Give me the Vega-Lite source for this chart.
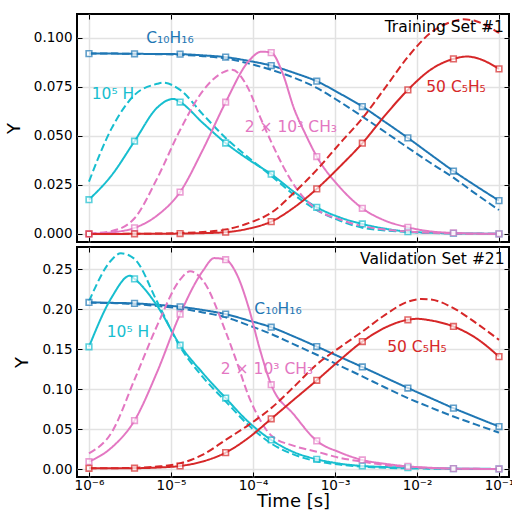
{
"$schema": "https://vega.github.io/schema/vega-lite/v6.json",
"padding": {"left": 4, "top": 12, "right": 0, "bottom": 0},
"background": "white",
"spacing": 1,
"config": {
  "view": {"stroke": "black", "strokeWidth": 2},
  "font": "DejaVu Sans",
  "axis": {"domain": false, "labelFont": "DejaVu Sans", "labelFontSize": 13.5, "labelColor": "black", "titleFont": "DejaVu Sans", "titleFontSize": 18, "titleFontWeight": "normal", "titleColor": "black", "tickColor": "black", "tickSize": -5, "tickWidth": 1, "gridColor": "#e2e2e2", "gridWidth": 1.5}
},
"datasets": {
"curves": [
{"p":"T","s":"C10H16","k":"ref","t":1e-6,"y":0.092},{"p":"T","s":"C10H16","k":"ref","t":1.8957e-6,"y":0.092},{"p":"T","s":"C10H16","k":"ref","t":3.5938e-6,"y":0.0919},{"p":"T","s":"C10H16","k":"ref","t":6.8129e-6,"y":0.0918},{"p":"T","s":"C10H16","k":"ref","t":1.2915e-5,"y":0.0917},{"p":"T","s":"C10H16","k":"ref","t":2.4484e-5,"y":0.0911},{"p":"T","s":"C10H16","k":"ref","t":4.6416e-5,"y":0.0902},{"p":"T","s":"C10H16","k":"ref","t":8.7992e-5,"y":0.0883},{"p":"T","s":"C10H16","k":"ref","t":1.6681e-4,"y":0.0859},{"p":"T","s":"C10H16","k":"ref","t":3.1623e-4,"y":0.0822},{"p":"T","s":"C10H16","k":"ref","t":5.9948e-4,"y":0.0779},{"p":"T","s":"C10H16","k":"ref","t":1.1365e-3,"y":0.0717},{"p":"T","s":"C10H16","k":"ref","t":2.1544e-3,"y":0.065},{"p":"T","s":"C10H16","k":"ref","t":4.0842e-3,"y":0.0571},{"p":"T","s":"C10H16","k":"ref","t":7.7426e-3,"y":0.049},{"p":"T","s":"C10H16","k":"ref","t":1.4678e-2,"y":0.0405},{"p":"T","s":"C10H16","k":"ref","t":2.7826e-2,"y":0.0321},{"p":"T","s":"C10H16","k":"ref","t":5.2749e-2,"y":0.0244},{"p":"T","s":"C10H16","k":"ref","t":0.1,"y":0.017},
{"p":"T","s":"C10H16","k":"pred","t":1e-6,"y":0.092},{"p":"T","s":"C10H16","k":"pred","t":1.8957e-6,"y":0.092},{"p":"T","s":"C10H16","k":"pred","t":3.5938e-6,"y":0.0919},{"p":"T","s":"C10H16","k":"pred","t":6.8129e-6,"y":0.0917},{"p":"T","s":"C10H16","k":"pred","t":1.2915e-5,"y":0.0914},{"p":"T","s":"C10H16","k":"pred","t":2.4484e-5,"y":0.0907},{"p":"T","s":"C10H16","k":"pred","t":4.6416e-5,"y":0.0895},{"p":"T","s":"C10H16","k":"pred","t":8.7992e-5,"y":0.087},{"p":"T","s":"C10H16","k":"pred","t":1.6681e-4,"y":0.0837},{"p":"T","s":"C10H16","k":"pred","t":3.1623e-4,"y":0.0797},{"p":"T","s":"C10H16","k":"pred","t":5.9948e-4,"y":0.0745},{"p":"T","s":"C10H16","k":"pred","t":1.1365e-3,"y":0.0675},{"p":"T","s":"C10H16","k":"pred","t":2.1544e-3,"y":0.0599},{"p":"T","s":"C10H16","k":"pred","t":4.0842e-3,"y":0.052},{"p":"T","s":"C10H16","k":"pred","t":7.7426e-3,"y":0.044},{"p":"T","s":"C10H16","k":"pred","t":1.4678e-2,"y":0.0362},{"p":"T","s":"C10H16","k":"pred","t":2.7826e-2,"y":0.0287},{"p":"T","s":"C10H16","k":"pred","t":5.2749e-2,"y":0.0203},{"p":"T","s":"C10H16","k":"pred","t":0.1,"y":0.0122},
{"p":"T","s":"H","k":"ref","t":1e-6,"y":0.0175},{"p":"T","s":"H","k":"ref","t":1.8957e-6,"y":0.030},{"p":"T","s":"H","k":"ref","t":3.5938e-6,"y":0.0473},{"p":"T","s":"H","k":"ref","t":6.8129e-6,"y":0.0645},{"p":"T","s":"H","k":"ref","t":1.0661e-5,"y":0.0689},{"p":"T","s":"H","k":"ref","t":1.2915e-5,"y":0.0673},{"p":"T","s":"H","k":"ref","t":2.4484e-5,"y":0.0566},{"p":"T","s":"H","k":"ref","t":4.6416e-5,"y":0.0464},{"p":"T","s":"H","k":"ref","t":8.7992e-5,"y":0.038},{"p":"T","s":"H","k":"ref","t":1.6681e-4,"y":0.0305},{"p":"T","s":"H","k":"ref","t":3.1623e-4,"y":0.0215},{"p":"T","s":"H","k":"ref","t":5.9948e-4,"y":0.0136},{"p":"T","s":"H","k":"ref","t":1.1365e-3,"y":0.0085},{"p":"T","s":"H","k":"ref","t":2.1544e-3,"y":0.0051},{"p":"T","s":"H","k":"ref","t":4.0842e-3,"y":0.0027},{"p":"T","s":"H","k":"ref","t":7.7426e-3,"y":0.0012},{"p":"T","s":"H","k":"ref","t":1.4678e-2,"y":0.0006},{"p":"T","s":"H","k":"ref","t":2.7826e-2,"y":0.0003},{"p":"T","s":"H","k":"ref","t":5.2749e-2,"y":0.0002},{"p":"T","s":"H","k":"ref","t":0.1,"y":0.0001},
{"p":"T","s":"H","k":"pred","t":1e-6,"y":0.0267},{"p":"T","s":"H","k":"pred","t":1.8957e-6,"y":0.054},{"p":"T","s":"H","k":"pred","t":3.5938e-6,"y":0.0709},{"p":"T","s":"H","k":"pred","t":6.8129e-6,"y":0.0766},{"p":"T","s":"H","k":"pred","t":7.943e-6,"y":0.0772},{"p":"T","s":"H","k":"pred","t":1.2915e-5,"y":0.0735},{"p":"T","s":"H","k":"pred","t":2.4484e-5,"y":0.061},{"p":"T","s":"H","k":"pred","t":4.6416e-5,"y":0.049},{"p":"T","s":"H","k":"pred","t":8.7992e-5,"y":0.039},{"p":"T","s":"H","k":"pred","t":1.6681e-4,"y":0.0297},{"p":"T","s":"H","k":"pred","t":3.1623e-4,"y":0.020},{"p":"T","s":"H","k":"pred","t":5.9948e-4,"y":0.0122},{"p":"T","s":"H","k":"pred","t":1.1365e-3,"y":0.0068},{"p":"T","s":"H","k":"pred","t":2.1544e-3,"y":0.0032},{"p":"T","s":"H","k":"pred","t":4.0842e-3,"y":0.0018},{"p":"T","s":"H","k":"pred","t":7.7426e-3,"y":0.001},{"p":"T","s":"H","k":"pred","t":1.4678e-2,"y":0.0005},{"p":"T","s":"H","k":"pred","t":2.7826e-2,"y":0.0002},{"p":"T","s":"H","k":"pred","t":5.2749e-2,"y":0.0001},{"p":"T","s":"H","k":"pred","t":0.1,"y":0.0001},
{"p":"T","s":"CH3","k":"ref","t":1e-6,"y":0.0001},{"p":"T","s":"CH3","k":"ref","t":1.8957e-6,"y":0.0008},{"p":"T","s":"CH3","k":"ref","t":3.5938e-6,"y":0.0031},{"p":"T","s":"CH3","k":"ref","t":6.8129e-6,"y":0.0095},{"p":"T","s":"CH3","k":"ref","t":1.2915e-5,"y":0.0214},{"p":"T","s":"CH3","k":"ref","t":2.4484e-5,"y":0.043},{"p":"T","s":"CH3","k":"ref","t":4.6416e-5,"y":0.0672},{"p":"T","s":"CH3","k":"ref","t":8.7992e-5,"y":0.088},{"p":"T","s":"CH3","k":"ref","t":1.275e-4,"y":0.093},{"p":"T","s":"CH3","k":"ref","t":1.6681e-4,"y":0.0925},{"p":"T","s":"CH3","k":"ref","t":2.2967e-4,"y":0.082},{"p":"T","s":"CH3","k":"ref","t":3.1623e-4,"y":0.064},{"p":"T","s":"CH3","k":"ref","t":4.3539e-4,"y":0.051},{"p":"T","s":"CH3","k":"ref","t":5.9948e-4,"y":0.0395},{"p":"T","s":"CH3","k":"ref","t":1.1365e-3,"y":0.024},{"p":"T","s":"CH3","k":"ref","t":2.1544e-3,"y":0.0131},{"p":"T","s":"CH3","k":"ref","t":4.0842e-3,"y":0.0068},{"p":"T","s":"CH3","k":"ref","t":7.7426e-3,"y":0.0034},{"p":"T","s":"CH3","k":"ref","t":1.4678e-2,"y":0.0013},{"p":"T","s":"CH3","k":"ref","t":2.7826e-2,"y":0.0005},{"p":"T","s":"CH3","k":"ref","t":5.2749e-2,"y":0.0002},{"p":"T","s":"CH3","k":"ref","t":0.1,"y":0.0001},
{"p":"T","s":"CH3","k":"pred","t":1e-6,"y":0.0002},{"p":"T","s":"CH3","k":"pred","t":1.8957e-6,"y":0.0015},{"p":"T","s":"CH3","k":"pred","t":3.5938e-6,"y":0.008},{"p":"T","s":"CH3","k":"pred","t":6.8129e-6,"y":0.0285},{"p":"T","s":"CH3","k":"pred","t":1.2915e-5,"y":0.053},{"p":"T","s":"CH3","k":"pred","t":2.4484e-5,"y":0.073},{"p":"T","s":"CH3","k":"pred","t":4.6416e-5,"y":0.083},{"p":"T","s":"CH3","k":"pred","t":5.5519e-5,"y":0.0837},{"p":"T","s":"CH3","k":"pred","t":8.7992e-5,"y":0.074},{"p":"T","s":"CH3","k":"pred","t":1.2115e-4,"y":0.060},{"p":"T","s":"CH3","k":"pred","t":1.6681e-4,"y":0.047},{"p":"T","s":"CH3","k":"pred","t":2.2967e-4,"y":0.035},{"p":"T","s":"CH3","k":"pred","t":3.1623e-4,"y":0.025},{"p":"T","s":"CH3","k":"pred","t":5.9948e-4,"y":0.0125},{"p":"T","s":"CH3","k":"pred","t":1.1365e-3,"y":0.0075},{"p":"T","s":"CH3","k":"pred","t":2.1544e-3,"y":0.004},{"p":"T","s":"CH3","k":"pred","t":4.0842e-3,"y":0.0022},{"p":"T","s":"CH3","k":"pred","t":7.7426e-3,"y":0.0012},{"p":"T","s":"CH3","k":"pred","t":1.4678e-2,"y":0.0006},{"p":"T","s":"CH3","k":"pred","t":2.7826e-2,"y":0.0003},{"p":"T","s":"CH3","k":"pred","t":5.2749e-2,"y":0.0001},{"p":"T","s":"CH3","k":"pred","t":0.1,"y":0.0001},
{"p":"T","s":"C5H5","k":"ref","t":1e-6,"y":0},{"p":"T","s":"C5H5","k":"ref","t":1.8957e-6,"y":0},{"p":"T","s":"C5H5","k":"ref","t":3.5938e-6,"y":0.0001},{"p":"T","s":"C5H5","k":"ref","t":6.8129e-6,"y":0.0001},{"p":"T","s":"C5H5","k":"ref","t":1.2915e-5,"y":0.0002},{"p":"T","s":"C5H5","k":"ref","t":2.4484e-5,"y":0.0004},{"p":"T","s":"C5H5","k":"ref","t":4.6416e-5,"y":0.0009},{"p":"T","s":"C5H5","k":"ref","t":8.7992e-5,"y":0.0027},{"p":"T","s":"C5H5","k":"ref","t":1.6681e-4,"y":0.0063},{"p":"T","s":"C5H5","k":"ref","t":3.1623e-4,"y":0.0135},{"p":"T","s":"C5H5","k":"ref","t":5.9948e-4,"y":0.023},{"p":"T","s":"C5H5","k":"ref","t":1.1365e-3,"y":0.0342},{"p":"T","s":"C5H5","k":"ref","t":2.1544e-3,"y":0.0463},{"p":"T","s":"C5H5","k":"ref","t":4.0842e-3,"y":0.0605},{"p":"T","s":"C5H5","k":"ref","t":7.7426e-3,"y":0.0735},{"p":"T","s":"C5H5","k":"ref","t":1.4678e-2,"y":0.0838},{"p":"T","s":"C5H5","k":"ref","t":2.7826e-2,"y":0.0893},{"p":"T","s":"C5H5","k":"ref","t":4.0842e-2,"y":0.0905},{"p":"T","s":"C5H5","k":"ref","t":5.2749e-2,"y":0.0898},{"p":"T","s":"C5H5","k":"ref","t":0.1,"y":0.0842},
{"p":"T","s":"C5H5","k":"pred","t":1e-6,"y":0},{"p":"T","s":"C5H5","k":"pred","t":1.8957e-6,"y":0},{"p":"T","s":"C5H5","k":"pred","t":3.5938e-6,"y":0.0001},{"p":"T","s":"C5H5","k":"pred","t":6.8129e-6,"y":0.0002},{"p":"T","s":"C5H5","k":"pred","t":1.2915e-5,"y":0.0005},{"p":"T","s":"C5H5","k":"pred","t":2.4484e-5,"y":0.001},{"p":"T","s":"C5H5","k":"pred","t":4.6416e-5,"y":0.0022},{"p":"T","s":"C5H5","k":"pred","t":8.7992e-5,"y":0.0055},{"p":"T","s":"C5H5","k":"pred","t":1.6681e-4,"y":0.0108},{"p":"T","s":"C5H5","k":"pred","t":3.1623e-4,"y":0.021},{"p":"T","s":"C5H5","k":"pred","t":5.9948e-4,"y":0.0327},{"p":"T","s":"C5H5","k":"pred","t":1.1365e-3,"y":0.046},{"p":"T","s":"C5H5","k":"pred","t":2.1544e-3,"y":0.059},{"p":"T","s":"C5H5","k":"pred","t":4.0842e-3,"y":0.0745},{"p":"T","s":"C5H5","k":"pred","t":7.7426e-3,"y":0.0903},{"p":"T","s":"C5H5","k":"pred","t":1.4678e-2,"y":0.1026},{"p":"T","s":"C5H5","k":"pred","t":2.7826e-2,"y":0.1085},{"p":"T","s":"C5H5","k":"pred","t":3.5938e-2,"y":0.1095},{"p":"T","s":"C5H5","k":"pred","t":5.2749e-2,"y":0.1085},{"p":"T","s":"C5H5","k":"pred","t":0.1,"y":0.1025},
{"p":"V","s":"C10H16","k":"ref","t":1e-6,"y":0.2085},{"p":"V","s":"C10H16","k":"ref","t":1.8957e-6,"y":0.208},{"p":"V","s":"C10H16","k":"ref","t":3.5938e-6,"y":0.2073},{"p":"V","s":"C10H16","k":"ref","t":6.8129e-6,"y":0.2055},{"p":"V","s":"C10H16","k":"ref","t":1.2915e-5,"y":0.2031},{"p":"V","s":"C10H16","k":"ref","t":2.4484e-5,"y":0.199},{"p":"V","s":"C10H16","k":"ref","t":4.6416e-5,"y":0.1939},{"p":"V","s":"C10H16","k":"ref","t":8.7992e-5,"y":0.186},{"p":"V","s":"C10H16","k":"ref","t":1.6681e-4,"y":0.1775},{"p":"V","s":"C10H16","k":"ref","t":3.1623e-4,"y":0.1658},{"p":"V","s":"C10H16","k":"ref","t":5.9948e-4,"y":0.1533},{"p":"V","s":"C10H16","k":"ref","t":1.1365e-3,"y":0.1405},{"p":"V","s":"C10H16","k":"ref","t":2.1544e-3,"y":0.1277},{"p":"V","s":"C10H16","k":"ref","t":4.0842e-3,"y":0.1145},{"p":"V","s":"C10H16","k":"ref","t":7.7426e-3,"y":0.1014},{"p":"V","s":"C10H16","k":"ref","t":1.4678e-2,"y":0.0888},{"p":"V","s":"C10H16","k":"ref","t":2.7826e-2,"y":0.0762},{"p":"V","s":"C10H16","k":"ref","t":5.2749e-2,"y":0.0645},{"p":"V","s":"C10H16","k":"ref","t":0.1,"y":0.0532},
{"p":"V","s":"C10H16","k":"pred","t":1e-6,"y":0.2085},{"p":"V","s":"C10H16","k":"pred","t":1.8957e-6,"y":0.2077},{"p":"V","s":"C10H16","k":"pred","t":3.5938e-6,"y":0.2065},{"p":"V","s":"C10H16","k":"pred","t":6.8129e-6,"y":0.204},{"p":"V","s":"C10H16","k":"pred","t":1.2915e-5,"y":0.201},{"p":"V","s":"C10H16","k":"pred","t":2.4484e-5,"y":0.196},{"p":"V","s":"C10H16","k":"pred","t":4.6416e-5,"y":0.19},{"p":"V","s":"C10H16","k":"pred","t":8.7992e-5,"y":0.18},{"p":"V","s":"C10H16","k":"pred","t":1.6681e-4,"y":0.169},{"p":"V","s":"C10H16","k":"pred","t":3.1623e-4,"y":0.156},{"p":"V","s":"C10H16","k":"pred","t":5.9948e-4,"y":0.143},{"p":"V","s":"C10H16","k":"pred","t":1.1365e-3,"y":0.1295},{"p":"V","s":"C10H16","k":"pred","t":2.1544e-3,"y":0.116},{"p":"V","s":"C10H16","k":"pred","t":4.0842e-3,"y":0.102},{"p":"V","s":"C10H16","k":"pred","t":7.7426e-3,"y":0.0888},{"p":"V","s":"C10H16","k":"pred","t":1.4678e-2,"y":0.077},{"p":"V","s":"C10H16","k":"pred","t":2.7826e-2,"y":0.0657},{"p":"V","s":"C10H16","k":"pred","t":5.2749e-2,"y":0.0555},{"p":"V","s":"C10H16","k":"pred","t":0.1,"y":0.0456},
{"p":"V","s":"H","k":"ref","t":1e-6,"y":0.153},{"p":"V","s":"H","k":"ref","t":1.8957e-6,"y":0.215},{"p":"V","s":"H","k":"ref","t":3.1623e-6,"y":0.242},{"p":"V","s":"H","k":"ref","t":3.5938e-6,"y":0.238},{"p":"V","s":"H","k":"ref","t":6.8129e-6,"y":0.204},{"p":"V","s":"H","k":"ref","t":1.2915e-5,"y":0.155},{"p":"V","s":"H","k":"ref","t":2.4484e-5,"y":0.12},{"p":"V","s":"H","k":"ref","t":4.6416e-5,"y":0.0888},{"p":"V","s":"H","k":"ref","t":8.7992e-5,"y":0.059},{"p":"V","s":"H","k":"ref","t":1.6681e-4,"y":0.0364},{"p":"V","s":"H","k":"ref","t":3.1623e-4,"y":0.021},{"p":"V","s":"H","k":"ref","t":5.9948e-4,"y":0.0122},{"p":"V","s":"H","k":"ref","t":1.1365e-3,"y":0.0068},{"p":"V","s":"H","k":"ref","t":2.1544e-3,"y":0.0038},{"p":"V","s":"H","k":"ref","t":4.0842e-3,"y":0.0025},{"p":"V","s":"H","k":"ref","t":7.7426e-3,"y":0.0017},{"p":"V","s":"H","k":"ref","t":1.4678e-2,"y":0.001},{"p":"V","s":"H","k":"ref","t":2.7826e-2,"y":0.0005},{"p":"V","s":"H","k":"ref","t":5.2749e-2,"y":0.0003},{"p":"V","s":"H","k":"ref","t":0.1,"y":0.0001},
{"p":"V","s":"H","k":"pred","t":1e-6,"y":0.21},{"p":"V","s":"H","k":"pred","t":1.8957e-6,"y":0.262},{"p":"V","s":"H","k":"pred","t":2.448e-6,"y":0.27},{"p":"V","s":"H","k":"pred","t":3.5938e-6,"y":0.263},{"p":"V","s":"H","k":"pred","t":6.8129e-6,"y":0.209},{"p":"V","s":"H","k":"pred","t":1.2915e-5,"y":0.153},{"p":"V","s":"H","k":"pred","t":2.4484e-5,"y":0.115},{"p":"V","s":"H","k":"pred","t":4.6416e-5,"y":0.0846},{"p":"V","s":"H","k":"pred","t":8.7992e-5,"y":0.055},{"p":"V","s":"H","k":"pred","t":1.6681e-4,"y":0.032},{"p":"V","s":"H","k":"pred","t":3.1623e-4,"y":0.018},{"p":"V","s":"H","k":"pred","t":5.9948e-4,"y":0.0097},{"p":"V","s":"H","k":"pred","t":1.1365e-3,"y":0.0055},{"p":"V","s":"H","k":"pred","t":2.1544e-3,"y":0.003},{"p":"V","s":"H","k":"pred","t":4.0842e-3,"y":0.0015},{"p":"V","s":"H","k":"pred","t":7.7426e-3,"y":0.0008},{"p":"V","s":"H","k":"pred","t":1.4678e-2,"y":0.0004},{"p":"V","s":"H","k":"pred","t":2.7826e-2,"y":0.0002},{"p":"V","s":"H","k":"pred","t":5.2749e-2,"y":0.0001},{"p":"V","s":"H","k":"pred","t":0.1,"y":0.0001},
{"p":"V","s":"CH3","k":"ref","t":1e-6,"y":0.0092},{"p":"V","s":"CH3","k":"ref","t":1.8957e-6,"y":0.027},{"p":"V","s":"CH3","k":"ref","t":3.5938e-6,"y":0.0607},{"p":"V","s":"CH3","k":"ref","t":6.8129e-6,"y":0.122},{"p":"V","s":"CH3","k":"ref","t":1.2915e-5,"y":0.1938},{"p":"V","s":"CH3","k":"ref","t":2.4484e-5,"y":0.248},{"p":"V","s":"CH3","k":"ref","t":3.3714e-5,"y":0.264},{"p":"V","s":"CH3","k":"ref","t":4.6416e-5,"y":0.262},{"p":"V","s":"CH3","k":"ref","t":6.3912e-5,"y":0.243},{"p":"V","s":"CH3","k":"ref","t":8.7992e-5,"y":0.203},{"p":"V","s":"CH3","k":"ref","t":1.2115e-4,"y":0.15},{"p":"V","s":"CH3","k":"ref","t":1.6681e-4,"y":0.1055},{"p":"V","s":"CH3","k":"ref","t":3.1623e-4,"y":0.068},{"p":"V","s":"CH3","k":"ref","t":5.9948e-4,"y":0.0352},{"p":"V","s":"CH3","k":"ref","t":1.1365e-3,"y":0.021},{"p":"V","s":"CH3","k":"ref","t":2.1544e-3,"y":0.0113},{"p":"V","s":"CH3","k":"ref","t":4.0842e-3,"y":0.0065},{"p":"V","s":"CH3","k":"ref","t":7.7426e-3,"y":0.0033},{"p":"V","s":"CH3","k":"ref","t":1.4678e-2,"y":0.0015},{"p":"V","s":"CH3","k":"ref","t":2.7826e-2,"y":0.0005},{"p":"V","s":"CH3","k":"ref","t":5.2749e-2,"y":0.0002},{"p":"V","s":"CH3","k":"ref","t":0.1,"y":0.0001},
{"p":"V","s":"CH3","k":"pred","t":1e-6,"y":0.0197},{"p":"V","s":"CH3","k":"pred","t":1.8957e-6,"y":0.046},{"p":"V","s":"CH3","k":"pred","t":3.5938e-6,"y":0.112},{"p":"V","s":"CH3","k":"pred","t":6.8129e-6,"y":0.18},{"p":"V","s":"CH3","k":"pred","t":1.2915e-5,"y":0.237},{"p":"V","s":"CH3","k":"pred","t":1.7113e-5,"y":0.2475},{"p":"V","s":"CH3","k":"pred","t":2.4484e-5,"y":0.236},{"p":"V","s":"CH3","k":"pred","t":4.6416e-5,"y":0.172},{"p":"V","s":"CH3","k":"pred","t":6.3912e-5,"y":0.133},{"p":"V","s":"CH3","k":"pred","t":8.7992e-5,"y":0.092},{"p":"V","s":"CH3","k":"pred","t":1.2115e-4,"y":0.062},{"p":"V","s":"CH3","k":"pred","t":1.6681e-4,"y":0.042},{"p":"V","s":"CH3","k":"pred","t":3.1623e-4,"y":0.029},{"p":"V","s":"CH3","k":"pred","t":5.9948e-4,"y":0.0217},{"p":"V","s":"CH3","k":"pred","t":1.1365e-3,"y":0.014},{"p":"V","s":"CH3","k":"pred","t":2.1544e-3,"y":0.0092},{"p":"V","s":"CH3","k":"pred","t":4.0842e-3,"y":0.005},{"p":"V","s":"CH3","k":"pred","t":7.7426e-3,"y":0.0027},{"p":"V","s":"CH3","k":"pred","t":1.4678e-2,"y":0.0012},{"p":"V","s":"CH3","k":"pred","t":2.7826e-2,"y":0.0005},{"p":"V","s":"CH3","k":"pred","t":5.2749e-2,"y":0.0002},{"p":"V","s":"CH3","k":"pred","t":0.1,"y":0.0001},
{"p":"V","s":"C5H5","k":"ref","t":1e-6,"y":0.0009},{"p":"V","s":"C5H5","k":"ref","t":1.8957e-6,"y":0.0009},{"p":"V","s":"C5H5","k":"ref","t":3.5938e-6,"y":0.001},{"p":"V","s":"C5H5","k":"ref","t":6.8129e-6,"y":0.0018},{"p":"V","s":"C5H5","k":"ref","t":1.2915e-5,"y":0.0038},{"p":"V","s":"C5H5","k":"ref","t":2.4484e-5,"y":0.0095},{"p":"V","s":"C5H5","k":"ref","t":4.6416e-5,"y":0.0205},{"p":"V","s":"C5H5","k":"ref","t":8.7992e-5,"y":0.039},{"p":"V","s":"C5H5","k":"ref","t":1.6681e-4,"y":0.0628},{"p":"V","s":"C5H5","k":"ref","t":3.1623e-4,"y":0.087},{"p":"V","s":"C5H5","k":"ref","t":5.9948e-4,"y":0.111},{"p":"V","s":"C5H5","k":"ref","t":1.1365e-3,"y":0.136},{"p":"V","s":"C5H5","k":"ref","t":2.1544e-3,"y":0.1595},{"p":"V","s":"C5H5","k":"ref","t":4.0842e-3,"y":0.177},{"p":"V","s":"C5H5","k":"ref","t":7.7426e-3,"y":0.1868},{"p":"V","s":"C5H5","k":"ref","t":1e-2,"y":0.188},{"p":"V","s":"C5H5","k":"ref","t":1.4678e-2,"y":0.186},{"p":"V","s":"C5H5","k":"ref","t":2.7826e-2,"y":0.1784},{"p":"V","s":"C5H5","k":"ref","t":5.2749e-2,"y":0.1637},{"p":"V","s":"C5H5","k":"ref","t":0.1,"y":0.1407},
{"p":"V","s":"C5H5","k":"pred","t":1e-6,"y":0.0009},{"p":"V","s":"C5H5","k":"pred","t":1.8957e-6,"y":0.001},{"p":"V","s":"C5H5","k":"pred","t":3.5938e-6,"y":0.0015},{"p":"V","s":"C5H5","k":"pred","t":6.8129e-6,"y":0.003},{"p":"V","s":"C5H5","k":"pred","t":1.2915e-5,"y":0.007},{"p":"V","s":"C5H5","k":"pred","t":2.4484e-5,"y":0.018},{"p":"V","s":"C5H5","k":"pred","t":4.6416e-5,"y":0.0364},{"p":"V","s":"C5H5","k":"pred","t":8.7992e-5,"y":0.055},{"p":"V","s":"C5H5","k":"pred","t":1.6681e-4,"y":0.0762},{"p":"V","s":"C5H5","k":"pred","t":3.1623e-4,"y":0.103},{"p":"V","s":"C5H5","k":"pred","t":5.9948e-4,"y":0.131},{"p":"V","s":"C5H5","k":"pred","t":1.1365e-3,"y":0.152},{"p":"V","s":"C5H5","k":"pred","t":2.1544e-3,"y":0.172},{"p":"V","s":"C5H5","k":"pred","t":4.0842e-3,"y":0.193},{"p":"V","s":"C5H5","k":"pred","t":7.7426e-3,"y":0.2095},{"p":"V","s":"C5H5","k":"pred","t":1.1365e-2,"y":0.2128},{"p":"V","s":"C5H5","k":"pred","t":1.4678e-2,"y":0.2122},{"p":"V","s":"C5H5","k":"pred","t":2.7826e-2,"y":0.2014},{"p":"V","s":"C5H5","k":"pred","t":5.2749e-2,"y":0.1826},{"p":"V","s":"C5H5","k":"pred","t":0.1,"y":0.1617}
],
"samples": [
{"p":"T","s":"C10H16","t":1e-6,"y":0.092},{"p":"T","s":"C10H16","t":3.5938e-6,"y":0.0919},{"p":"T","s":"C10H16","t":1.2915e-5,"y":0.0917},{"p":"T","s":"C10H16","t":4.6416e-5,"y":0.0902},{"p":"T","s":"C10H16","t":1.6681e-4,"y":0.0859},{"p":"T","s":"C10H16","t":5.9948e-4,"y":0.0779},{"p":"T","s":"C10H16","t":2.1544e-3,"y":0.065},{"p":"T","s":"C10H16","t":7.7426e-3,"y":0.049},{"p":"T","s":"C10H16","t":2.7826e-2,"y":0.0321},{"p":"T","s":"C10H16","t":0.1,"y":0.017},
{"p":"T","s":"H","t":1e-6,"y":0.0175},{"p":"T","s":"H","t":3.5938e-6,"y":0.0473},{"p":"T","s":"H","t":1.2915e-5,"y":0.0673},{"p":"T","s":"H","t":4.6416e-5,"y":0.0464},{"p":"T","s":"H","t":1.6681e-4,"y":0.0305},{"p":"T","s":"H","t":5.9948e-4,"y":0.0136},{"p":"T","s":"H","t":2.1544e-3,"y":0.0051},{"p":"T","s":"H","t":7.7426e-3,"y":0.0012},{"p":"T","s":"H","t":2.7826e-2,"y":0.0003},{"p":"T","s":"H","t":0.1,"y":0.0001},
{"p":"T","s":"CH3","t":1e-6,"y":0.0001},{"p":"T","s":"CH3","t":3.5938e-6,"y":0.0031},{"p":"T","s":"CH3","t":1.2915e-5,"y":0.0214},{"p":"T","s":"CH3","t":4.6416e-5,"y":0.0672},{"p":"T","s":"CH3","t":1.6681e-4,"y":0.0925},{"p":"T","s":"CH3","t":5.9948e-4,"y":0.0395},{"p":"T","s":"CH3","t":2.1544e-3,"y":0.0131},{"p":"T","s":"CH3","t":7.7426e-3,"y":0.0034},{"p":"T","s":"CH3","t":2.7826e-2,"y":0.0005},{"p":"T","s":"CH3","t":0.1,"y":0.0001},
{"p":"T","s":"C5H5","t":1e-6,"y":0},{"p":"T","s":"C5H5","t":3.5938e-6,"y":0.0001},{"p":"T","s":"C5H5","t":1.2915e-5,"y":0.0002},{"p":"T","s":"C5H5","t":4.6416e-5,"y":0.0009},{"p":"T","s":"C5H5","t":1.6681e-4,"y":0.0063},{"p":"T","s":"C5H5","t":5.9948e-4,"y":0.023},{"p":"T","s":"C5H5","t":2.1544e-3,"y":0.0463},{"p":"T","s":"C5H5","t":7.7426e-3,"y":0.0735},{"p":"T","s":"C5H5","t":2.7826e-2,"y":0.0893},{"p":"T","s":"C5H5","t":0.1,"y":0.0842},
{"p":"V","s":"C10H16","t":1e-6,"y":0.2085},{"p":"V","s":"C10H16","t":3.5938e-6,"y":0.2073},{"p":"V","s":"C10H16","t":1.2915e-5,"y":0.2031},{"p":"V","s":"C10H16","t":4.6416e-5,"y":0.1939},{"p":"V","s":"C10H16","t":1.6681e-4,"y":0.1775},{"p":"V","s":"C10H16","t":5.9948e-4,"y":0.1533},{"p":"V","s":"C10H16","t":2.1544e-3,"y":0.1277},{"p":"V","s":"C10H16","t":7.7426e-3,"y":0.1014},{"p":"V","s":"C10H16","t":2.7826e-2,"y":0.0762},{"p":"V","s":"C10H16","t":0.1,"y":0.0532},
{"p":"V","s":"H","t":1e-6,"y":0.153},{"p":"V","s":"H","t":3.5938e-6,"y":0.238},{"p":"V","s":"H","t":1.2915e-5,"y":0.155},{"p":"V","s":"H","t":4.6416e-5,"y":0.0888},{"p":"V","s":"H","t":1.6681e-4,"y":0.0364},{"p":"V","s":"H","t":5.9948e-4,"y":0.0122},{"p":"V","s":"H","t":2.1544e-3,"y":0.0038},{"p":"V","s":"H","t":7.7426e-3,"y":0.0017},{"p":"V","s":"H","t":2.7826e-2,"y":0.0005},{"p":"V","s":"H","t":0.1,"y":0.0001},
{"p":"V","s":"CH3","t":1e-6,"y":0.0092},{"p":"V","s":"CH3","t":3.5938e-6,"y":0.0607},{"p":"V","s":"CH3","t":1.2915e-5,"y":0.1938},{"p":"V","s":"CH3","t":4.6416e-5,"y":0.262},{"p":"V","s":"CH3","t":1.6681e-4,"y":0.1055},{"p":"V","s":"CH3","t":5.9948e-4,"y":0.0352},{"p":"V","s":"CH3","t":2.1544e-3,"y":0.0113},{"p":"V","s":"CH3","t":7.7426e-3,"y":0.0033},{"p":"V","s":"CH3","t":2.7826e-2,"y":0.0005},{"p":"V","s":"CH3","t":0.1,"y":0.0001},
{"p":"V","s":"C5H5","t":1e-6,"y":0.0009},{"p":"V","s":"C5H5","t":3.5938e-6,"y":0.001},{"p":"V","s":"C5H5","t":1.2915e-5,"y":0.0038},{"p":"V","s":"C5H5","t":4.6416e-5,"y":0.0205},{"p":"V","s":"C5H5","t":1.6681e-4,"y":0.0628},{"p":"V","s":"C5H5","t":5.9948e-4,"y":0.111},{"p":"V","s":"C5H5","t":2.1544e-3,"y":0.1595},{"p":"V","s":"C5H5","t":7.7426e-3,"y":0.1868},{"p":"V","s":"C5H5","t":2.7826e-2,"y":0.1784},{"p":"V","s":"C5H5","t":0.1,"y":0.1407}
],
"labels": [
{"p":"T","s":"C10H16","txt":"C₁₀H₁₆","t":9.72e-6,"y":0.1},
{"p":"T","s":"H","txt":"10⁵ H","t":1.963e-6,"y":0.0714},
{"p":"T","s":"CH3","txt":"2 × 10³ CH₃","t":2.9e-4,"y":0.0546},
{"p":"T","s":"C5H5","txt":"50 C₅H₅","t":2.99e-2,"y":0.075},
{"p":"V","s":"H","txt":"10⁵ H","t":2.99e-6,"y":0.172},
{"p":"V","s":"C10H16","txt":"C₁₀H₁₆","t":2.02e-4,"y":0.1997},
{"p":"V","s":"CH3","txt":"2 × 10³ CH₃","t":1.48e-4,"y":0.1256},
{"p":"V","s":"C5H5","txt":"50 C₅H₅","t":1e-2,"y":0.153}
],
"titles": [
{"p":"T","txt":"Training Set #1","t":0.115,"y":0.1056},
{"p":"V","txt":"Validation Set #21","t":0.117,"y":0.2626}
]
},
"resolve": {"scale": {"x": "independent", "y": "independent"}},
"vconcat": [
{
 "width": 432, "height": 228,
 "resolve": {"axis": {"x": "independent", "y": "independent"}},
 "layer": [
  {"data": {"name": "curves"}, "transform": [{"filter": "datum.p == 'T'"}],
   "mark": {"type": "line", "interpolate": "monotone", "strokeWidth": 2},
   "encoding": {
    "x": {"field": "t", "type": "quantitative", "scale": {"type": "log", "domain": [7.145e-7, 0.1324], "nice": false}, "axis": {"orient": "bottom", "values": [1e-6,1e-5,1e-4,1e-3,1e-2,1e-1], "labels": false, "title": null, "grid": true}},
    "y": {"field": "y", "type": "quantitative", "scale": {"domain": [-0.0041, 0.1122], "zero": false, "nice": false}, "axis": {"orient": "left", "values": [0,0.025,0.05,0.075,0.1], "format": ".3f", "title": "Y", "titlePadding": 10, "labelPadding": 10, "grid": true}},
    "color": {"field": "s", "type": "nominal", "scale": {"domain": ["C10H16","H","CH3","C5H5"], "range": ["#1f77b4","#17becf","#e377c2","#d62728"]}, "legend": null},
    "strokeDash": {"field": "k", "type": "nominal", "scale": {"domain": ["ref","pred"], "range": [[1,0],[7.5,3.5]]}, "legend": null}
   }},
  {"data": {"name": "samples"}, "transform": [{"filter": "datum.p == 'T'"}],
   "mark": {"type": "point", "shape": "square", "filled": true, "fill": "white", "size": 32, "strokeWidth": 1.6},
   "encoding": {
    "x": {"field": "t", "type": "quantitative", "scale": {"type": "log", "domain": [7.145e-7, 0.1324], "nice": false}, "axis": {"orient": "top", "values": [1e-6,1e-5,1e-4,1e-3,1e-2,1e-1], "labels": false, "title": null, "grid": false}},
    "y": {"field": "y", "type": "quantitative", "scale": {"domain": [-0.0041, 0.1122], "zero": false, "nice": false}, "axis": {"orient": "right", "values": [0,0.025,0.05,0.075,0.1], "labels": false, "title": null, "grid": false}},
    "stroke": {"field": "s", "type": "nominal", "scale": {"domain": ["C10H16","H","CH3","C5H5"], "range": ["#1f77b4","#17becf","#e377c2","#d62728"]}, "legend": null}
   }},
  {"data": {"name": "labels"}, "transform": [{"filter": "datum.p == 'T'"}],
   "mark": {"type": "text", "fontSize": 15.5, "align": "center", "baseline": "middle", "font": "DejaVu Sans"},
   "encoding": {
    "x": {"field": "t", "type": "quantitative", "axis": null},
    "y": {"field": "y", "type": "quantitative", "axis": null},
    "text": {"field": "txt"},
    "color": {"field": "s", "type": "nominal", "scale": {"domain": ["C10H16","H","CH3","C5H5"], "range": ["#1f77b4","#17becf","#e377c2","#d62728"]}, "legend": null}
   }},
  {"data": {"name": "titles"}, "transform": [{"filter": "datum.p == 'T'"}],
   "mark": {"type": "text", "fontSize": 15.5, "align": "right", "baseline": "middle", "color": "black", "font": "DejaVu Sans"},
   "encoding": {
    "x": {"field": "t", "type": "quantitative", "axis": null},
    "y": {"field": "y", "type": "quantitative", "axis": null},
    "text": {"field": "txt"}
   }}
 ]
},
{
 "width": 432, "height": 230,
 "resolve": {"axis": {"x": "independent", "y": "independent"}},
 "layer": [
  {"data": {"name": "curves"}, "transform": [{"filter": "datum.p == 'V'"}],
   "mark": {"type": "line", "interpolate": "monotone", "strokeWidth": 2},
   "encoding": {
    "x": {"field": "t", "type": "quantitative", "scale": {"type": "log", "domain": [7.145e-7, 0.1324], "nice": false}, "axis": {"orient": "bottom", "values": [1e-6,1e-5,1e-4,1e-3,1e-2,1e-1], "labelExpr": "'10⁻' + ['⁰','¹','²','³','⁴','⁵','⁶'][round(-log(datum.value)/LN10)]", "labelPadding": 6, "title": "Time [s]", "titlePadding": 1, "grid": true}},
    "y": {"field": "y", "type": "quantitative", "scale": {"domain": [-0.010, 0.2779], "zero": false, "nice": false}, "axis": {"orient": "left", "values": [0,0.05,0.1,0.15,0.2,0.25], "format": ".2f", "title": "Y", "titlePadding": 10, "labelPadding": 10, "grid": true}},
    "color": {"field": "s", "type": "nominal", "scale": {"domain": ["C10H16","H","CH3","C5H5"], "range": ["#1f77b4","#17becf","#e377c2","#d62728"]}, "legend": null},
    "strokeDash": {"field": "k", "type": "nominal", "scale": {"domain": ["ref","pred"], "range": [[1,0],[7.5,3.5]]}, "legend": null}
   }},
  {"data": {"name": "samples"}, "transform": [{"filter": "datum.p == 'V'"}],
   "mark": {"type": "point", "shape": "square", "filled": true, "fill": "white", "size": 32, "strokeWidth": 1.6},
   "encoding": {
    "x": {"field": "t", "type": "quantitative", "scale": {"type": "log", "domain": [7.145e-7, 0.1324], "nice": false}, "axis": {"orient": "top", "values": [1e-6,1e-5,1e-4,1e-3,1e-2,1e-1], "labels": false, "title": null, "grid": false}},
    "y": {"field": "y", "type": "quantitative", "scale": {"domain": [-0.010, 0.2779], "zero": false, "nice": false}, "axis": {"orient": "right", "values": [0,0.05,0.1,0.15,0.2,0.25], "labels": false, "title": null, "grid": false}},
    "stroke": {"field": "s", "type": "nominal", "scale": {"domain": ["C10H16","H","CH3","C5H5"], "range": ["#1f77b4","#17becf","#e377c2","#d62728"]}, "legend": null}
   }},
  {"data": {"name": "labels"}, "transform": [{"filter": "datum.p == 'V'"}],
   "mark": {"type": "text", "fontSize": 15.5, "align": "center", "baseline": "middle", "font": "DejaVu Sans"},
   "encoding": {
    "x": {"field": "t", "type": "quantitative", "axis": null},
    "y": {"field": "y", "type": "quantitative", "axis": null},
    "text": {"field": "txt"},
    "color": {"field": "s", "type": "nominal", "scale": {"domain": ["C10H16","H","CH3","C5H5"], "range": ["#1f77b4","#17becf","#e377c2","#d62728"]}, "legend": null}
   }},
  {"data": {"name": "titles"}, "transform": [{"filter": "datum.p == 'V'"}],
   "mark": {"type": "text", "fontSize": 15.5, "align": "right", "baseline": "middle", "color": "black", "font": "DejaVu Sans"},
   "encoding": {
    "x": {"field": "t", "type": "quantitative", "axis": null},
    "y": {"field": "y", "type": "quantitative", "axis": null},
    "text": {"field": "txt"}
   }}
 ]
}
]
}
